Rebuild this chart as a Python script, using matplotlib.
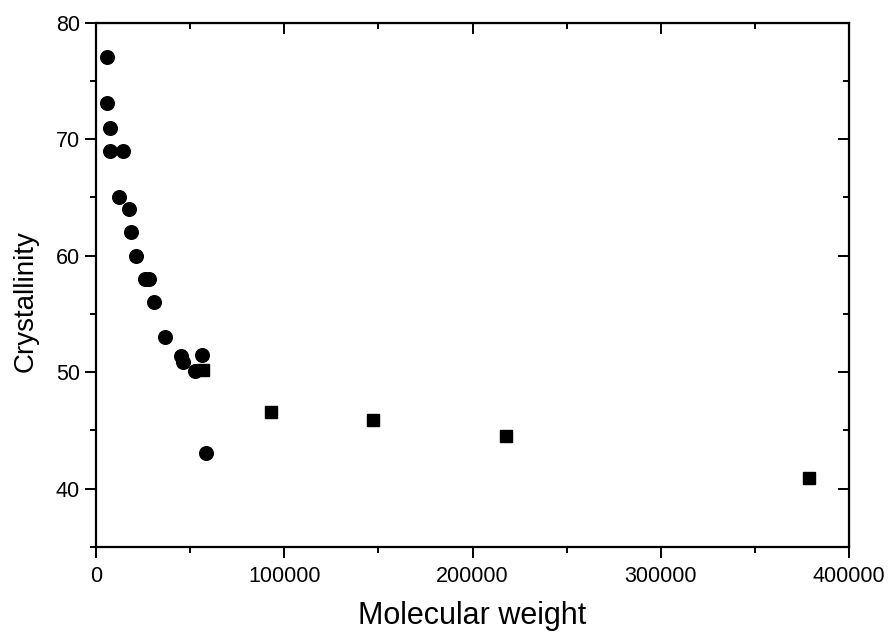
import matplotlib
matplotlib.use("Agg")
import matplotlib.pyplot as plt
from matplotlib.ticker import MultipleLocator

plt.rcParams['font.family'] = ['Liberation Sans', 'DejaVu Sans']

# circles
mw_circle = [5700, 6000, 7400, 7400, 14500, 12000, 17500, 18400, 21300,
             26200, 28000, 30800, 36700, 45000, 46400, 52600, 56500, 58300]
cryst_circle = [77.1, 73.1, 71.0, 69.0, 69.0, 65.0, 64.0, 62.0, 60.0,
                58.0, 58.0, 56.0, 53.0, 51.4, 50.9, 50.1, 51.5, 43.1]

# squares
mw_square = [57000, 93000, 147300, 217600, 378600]
cryst_square = [50.2, 46.6, 45.9, 44.5, 40.9]

fig = plt.figure(figsize=(8.89, 6.33), dpi=100)
ax = fig.add_axes([0.108, 0.136, 0.847, 0.828])

ax.plot(mw_circle, cryst_circle, 'o', color='black', markersize=9.8, linestyle='none')
ax.plot(mw_square, cryst_square, 's', color='black', markersize=8.8, linestyle='none')

ax.set_xlim(0, 400000)
ax.set_ylim(35, 80)
ax.xaxis.set_major_locator(MultipleLocator(100000))
ax.xaxis.set_minor_locator(MultipleLocator(50000))
ax.yaxis.set_major_locator(MultipleLocator(10))
ax.yaxis.set_minor_locator(MultipleLocator(5))

for s in ax.spines.values():
    s.set_linewidth(1.6)

# bottom/left ticks outward, top/right inward
ax.tick_params(which='both', direction='out', width=1.4, labelsize=15.5,
               top=False, right=False)
ax.tick_params(which='major', length=8)
ax.tick_params(which='minor', length=4.5)
ax.tick_params(axis='x', pad=6)

ax2 = ax.secondary_xaxis('top')
ax2.xaxis.set_major_locator(MultipleLocator(100000))
ax2.xaxis.set_minor_locator(MultipleLocator(50000))
ax2.tick_params(which='both', direction='in', width=1.4, labeltop=False)
ax2.tick_params(which='major', length=8)
ax2.tick_params(which='minor', length=4.5)
ax3 = ax.secondary_yaxis('right')
ax3.yaxis.set_major_locator(MultipleLocator(10))
ax3.yaxis.set_minor_locator(MultipleLocator(5))
ax3.tick_params(which='both', direction='in', width=1.4, labelright=False)
ax3.tick_params(which='major', length=8)
ax3.tick_params(which='minor', length=4.5)

ax.set_xlabel("Molecular weight", fontsize=22, labelpad=10)
ax.set_ylabel("Crystallinity", fontsize=20, labelpad=8)
ax.yaxis.set_label_coords(-0.076, 0.47)

fig.savefig("out.png", dpi=100)
